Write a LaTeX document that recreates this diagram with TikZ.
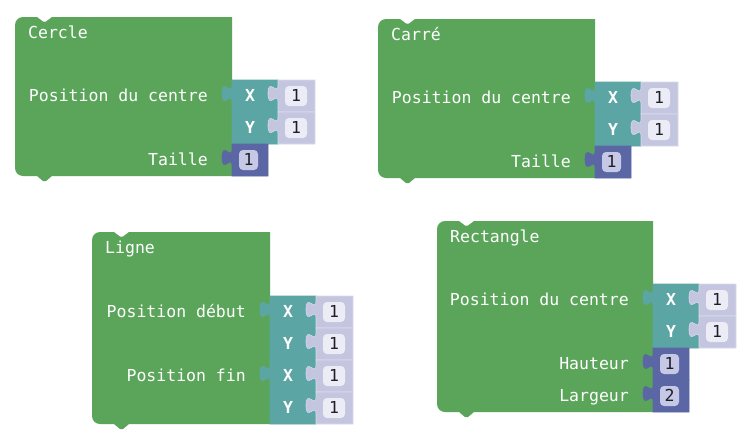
\documentclass[tikz,border=0pt]{standalone}
\usepackage{fontspec}
\newfontfamily\blkfont{DejaVu Sans Mono}

\definecolor{stmtgreen}{HTML}{5BA55B}
\definecolor{coordteal}{HTML}{5BA5A5}
\definecolor{numblue}{HTML}{5B67A5}
\definecolor{shadowlav}{HTML}{C4C6E0}
\definecolor{shadowedge}{HTML}{D8DAEC}
\definecolor{fieldlight}{HTML}{EBECF5}
\definecolor{fieldblue}{HTML}{C6C9E6}
\definecolor{digit}{HTML}{1E1E28}

\tikzset{
  lbl/.style={text=white, font={\blkfont\fontsize{16.5}{18}\selectfont}, inner sep=0pt},
  blocktitle/.style={lbl, anchor=base west},
  rowlbl/.style={lbl, anchor=base east},
  axislbl/.style={lbl, font={\blkfont\bfseries\fontsize{16.5}{18}\selectfont}, anchor=base},
  numlbl/.style={text=digit, font={\blkfont\fontsize{16.5}{18}\selectfont}, inner sep=0pt, anchor=base},
}

% statement block: rounded left corners, notch on top, tab below
% #1 width, #2 height (local origin = top left corner)
\newcommand\stmtblock[2]{%
  \fill[stmtgreen] (0,8) .. controls (0,3.6) and (3.6,0) .. (8,0) -- (22,0)
    -- (28,4.5) -- (31,4.5) -- (37,0) -- (#1,0) -- (#1,#2) -- (37,#2)
    -- (31,#2+5) -- (28,#2+5) -- (22,#2) -- (8,#2)
    .. controls (3.6,#2) and (0,#2-3.6) .. (0,#2-8) -- cycle;}

% value block with a puzzle tab on its left side
% #1 fill, #2 edge, #3 x, #4 y, #5 width, #6 height
\newcommand\tabbed[6]{%
  \path[fill=#1, draw=#2, line width=0.6] (#3,#4) -- (#3,#4+5.5)
    .. controls (#3,#4+16.2) and (#3-10,#4-3) .. (#3-10,#4+13.5)
    .. controls (#3-10,#4+30) and (#3,#4+10.8) .. (#3,#4+21.5)
    -- (#3,#4+#6) -- (#3+#5,#4+#6) -- (#3+#5,#4) -- cycle;}

% light shadow number block: #1 x, #2 y, #3 digit, #4 node name
\newcommand\shadownum[4]{%
  \tabbed{shadowlav}{shadowedge}{#1}{#2}{37}{32}
  \fill[fieldlight, rounded corners=4] (#1+7,#2+6) rectangle (#1+29,#2+26);
  \node[numlbl] (#4) at (#1+18,#2+21.5) {#3};}

% dark number block: #1 x, #2 y, #3 digit, #4 node name
\newcommand\solidnum[4]{%
  \tabbed{numblue}{numblue}{#1}{#2}{36}{32}
  \fill[fieldblue, rounded corners=4] (#1+7,#2+6) rectangle (#1+26,#2+26);
  \node[numlbl] (#4) at (#1+16.5,#2+21.5) {#3};}

% coordinate block with X and Y rows: #1 x, #2 y, #3 name prefix
\newcommand\coordblock[3]{%
  \tabbed{coordteal}{coordteal}{#1}{#2}{46}{64}
  \node[axislbl] (#3x) at (#1+18,#2+21.5) {X};
  \node[axislbl] (#3y) at (#1+18,#2+53.5) {Y};}

\begin{document}
\begin{tikzpicture}[x=1pt, y=-1pt]
\useasboundingbox[fill=white] (0,0) rectangle (754,437);

% Cercle
\begin{scope}[shift={(15,17)}]
  \stmtblock{217}{159}
  \coordblock{217}{63}{cc}
  \shadownum{263}{63}{1}{ccxv}
  \shadownum{263}{95}{1}{ccyv}
  \solidnum{217}{127}{1}{cts}
  \node[blocktitle] (ctitle) at (13,21.5) {Cercle};
  \node[rowlbl] (cpos) at (193,84.5) {Position du centre};
  \node[rowlbl] (csize) at (193,148.5) {Taille};
\end{scope}

% Carré
\begin{scope}[shift={(378,19)}]
  \stmtblock{217}{159}
  \coordblock{217}{63}{sc}
  \shadownum{263}{63}{1}{scxv}
  \shadownum{263}{95}{1}{scyv}
  \solidnum{217}{127}{1}{sts}
  \node[blocktitle] (stitle) at (13,21.5) {Carré};
  \node[rowlbl] (spos) at (193,84.5) {Position du centre};
  \node[rowlbl] (ssize) at (193,148.5) {Taille};
\end{scope}

% Ligne
\begin{scope}[shift={(92,232)}]
  \stmtblock{178}{192}
  \coordblock{178}{64}{ls}
  \coordblock{178}{128}{le}
  \shadownum{224}{64}{1}{lsxv}
  \shadownum{224}{96}{1}{lsyv}
  \shadownum{224}{128}{1}{lexv}
  \shadownum{224}{160}{1}{leyv}
  \node[blocktitle] (ltitle) at (13,21.5) {Ligne};
  \node[rowlbl] (lstart) at (154,85.5) {Position début};
  \node[rowlbl] (lend) at (154,149.5) {Position fin};
\end{scope}

% Rectangle
\begin{scope}[shift={(437,221)}]
  \stmtblock{216}{191}
  \coordblock{216}{63}{rc}
  \shadownum{262}{63}{1}{rcxv}
  \shadownum{262}{95}{1}{rcyv}
  \solidnum{216}{127}{1}{rhv}
  \solidnum{216}{159}{2}{rwv}
  \node[blocktitle] (rtitle) at (13,21.5) {Rectangle};
  \node[rowlbl] (rpos) at (192,84.5) {Position du centre};
  \node[rowlbl] (rh) at (192,148.5) {Hauteur};
  \node[rowlbl] (rw) at (192,180.5) {Largeur};
\end{scope}
\end{tikzpicture}
\end{document}
